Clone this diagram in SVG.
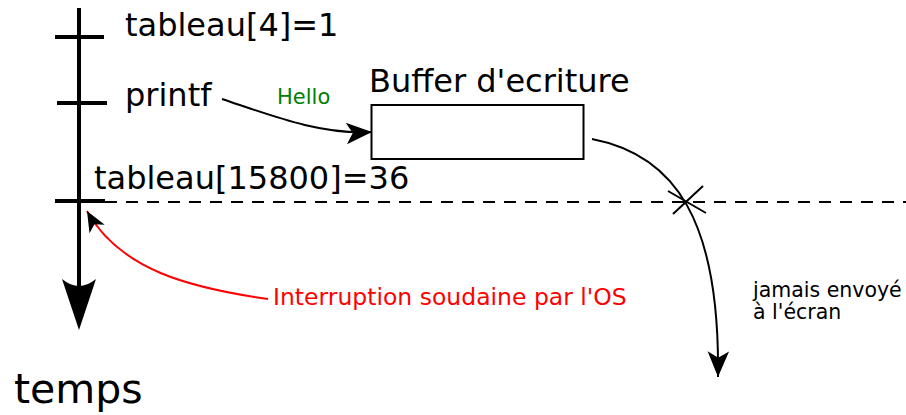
<svg xmlns="http://www.w3.org/2000/svg" width="906" height="415" viewBox="0 0 906 415">
<style>
text{font-family:"DejaVu Sans","Liberation Sans",sans-serif;fill:#000}
.big{font-size:32px}
.thick{stroke:#000;stroke-width:4;fill:none}
.thin{stroke:#000;stroke-width:2;fill:none}
</style>
<defs>
<marker id="ah" markerUnits="userSpaceOnUse" markerWidth="30" markerHeight="30" viewBox="-25 -12 28 24" refX="0" refY="0" orient="auto">
<path d="M0,0 L-24,-10 L-18,0 L-24,10 Z" fill="#000"/>
</marker>
<marker id="ahs" markerUnits="userSpaceOnUse" markerWidth="24" markerHeight="24" viewBox="-20 -10 22 20" refX="0" refY="0" orient="auto">
<path d="M0,0 L-19,-8 L-14,0 L-19,8 Z" fill="#000"/>
</marker>
</defs>
<g id="timeline">
<line class="thick" x1="79" y1="8" x2="79" y2="300"/>
<path d="M79,330 L62,279 Q79,293 96,279 Z" fill="#000"/>
<line class="thick" x1="55" y1="37" x2="104" y2="37"/>
<line class="thick" x1="57" y1="103" x2="107" y2="103"/>
<line class="thick" x1="55" y1="201" x2="105" y2="201"/>
<text x="14" y="403" style="font-size:41px">temps</text>
</g>
<g id="tableau4"><text class="big" x="125" y="36">tableau[4]=1</text></g>
<g id="printf"><text class="big" x="125" y="106">printf</text></g>
<g id="tableau15800"><text class="big" x="94" y="189">tableau[15800]=36</text></g>
<g id="buffer">
<text class="big" x="369" y="92">Buffer d'ecriture</text>
<rect class="thin" x="371.5" y="105" width="212" height="54"/>
</g>
<g id="interruption"><text x="273" y="305" style="font-size:23.5px;fill:#ff0000">Interruption soudaine par l'OS</text></g>
<g id="jamais"><text x="753" y="297" style="font-size:20.5px">jamais envoyé</text><text x="753" y="319" style="font-size:20.5px">à l'écran</text></g>
<g id="connectors">
<path class="thin" d="M222,99 C270,115 320,135 372,132" marker-end="url(#ah)"/>
<text x="277" y="104" style="font-size:21px;fill:#008000">Hello</text>
<line x1="105" y1="202" x2="906" y2="202" stroke="#000" stroke-width="2" stroke-dasharray="12,9"/>
<path d="M268,299 C190,288 120,270 87,211" stroke="#ff0000" stroke-width="2" fill="none" marker-end="url(#ahs)"/>
<path class="thin" d="M592,139 C675,155 720,220 718,377" marker-end="url(#ah)"/>
<line class="thin" x1="668" y1="191" x2="706" y2="213"/>
<line class="thin" x1="673" y1="214" x2="703" y2="186"/>
</g>
</svg>
